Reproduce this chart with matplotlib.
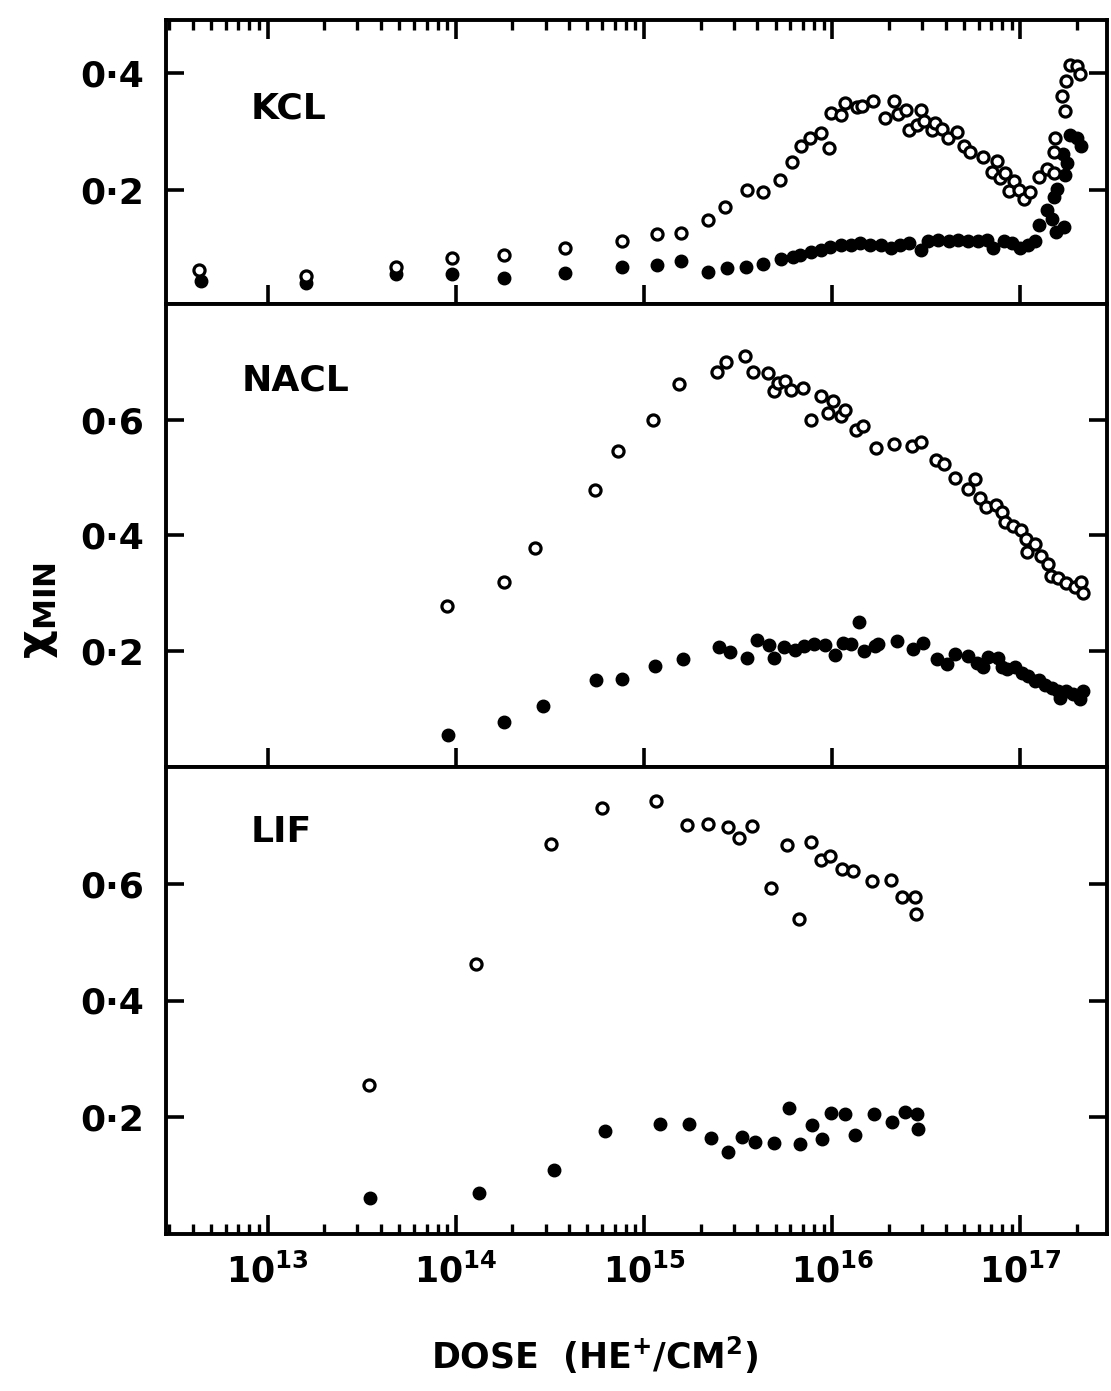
import matplotlib
matplotlib.use("Agg")
import matplotlib.pyplot as plt
from matplotlib.ticker import FixedLocator, NullFormatter, LogFormatterSciNotation

plt.rcParams['font.family'] = ['DejaVu Sans']
plt.rcParams['font.weight'] = 'bold'
plt.rcParams['mathtext.default'] = 'bf'

# ---- KCL ----
kcl_open_x = [4.3e12, 1.6e13, 4.8e13, 9.5e13, 1.8e14, 3.8e14, 7.6e14, 1.17e15, 1.57e15, 2.2e15,
              2.7e15, 3.52e15, 4.3e15, 5.27e15, 6.1e15, 6.8e15, 7.6e15, 8.75e15, 9.6e15, 9.9e15,
              1.11e16, 1.17e16, 1.35e16, 1.44e16, 1.65e16, 1.9e16, 2.14e16, 2.24e16, 2.47e16, 2.57e16,
              2.82e16, 2.95e16, 3.09e16, 3.39e16, 3.52e16, 3.82e16, 4.1e16, 4.6e16, 4.99e16, 5.4e16,
              6.31e16, 7.05e16, 7.5e16, 7.8e16, 8.3e16, 8.7e16, 9.2e16, 9.8e16, 1.05e17, 1.12e17,
              1.26e17, 1.38e17, 1.5e17, 1.51e17, 1.52e17, 1.73e17, 1.66e17, 1.75e17, 1.83e17, 2.0e17,
              2.07e17]
kcl_open_y = [0.063, 0.052, 0.069, 0.084, 0.089, 0.100, 0.113, 0.124, 0.127, 0.149,
              0.170, 0.200, 0.196, 0.216, 0.248, 0.274, 0.289, 0.297, 0.271, 0.332,
              0.327, 0.348, 0.341, 0.343, 0.351, 0.322, 0.351, 0.330, 0.336, 0.303,
              0.311, 0.336, 0.318, 0.303, 0.314, 0.304, 0.289, 0.299, 0.274, 0.265,
              0.256, 0.230, 0.250, 0.221, 0.229, 0.198, 0.215, 0.200, 0.184, 0.197,
              0.222, 0.236, 0.228, 0.265, 0.288, 0.334, 0.360, 0.386, 0.413, 0.412,
              0.397]
kcl_fill_x = [4.4e12, 1.6e13, 4.8e13, 9.5e13, 1.8e14, 3.8e14, 7.6e14, 1.17e15, 1.58e15, 2.2e15,
              2.75e15, 3.47e15, 4.27e15, 5.37e15, 6.17e15, 6.76e15, 7.67e15, 8.7e15, 9.77e15, 1.11e16,
              1.26e16, 1.41e16, 1.58e16, 1.81e16, 2.04e16, 2.29e16, 2.57e16, 2.95e16, 3.24e16, 3.67e16,
              4.17e16, 4.68e16, 5.25e16, 5.98e16, 6.61e16, 7.19e16, 8.13e16, 9.0e16, 9.95e16, 1.1e17,
              1.2e17, 1.26e17, 1.38e17, 1.48e17, 1.55e17, 1.7e17, 1.51e17, 1.56e17, 1.73e17, 1.76e17,
              1.69e17, 1.83e17, 2.0e17, 2.09e17]
kcl_fill_y = [0.045, 0.041, 0.056, 0.057, 0.049, 0.058, 0.068, 0.071, 0.078, 0.059,
              0.067, 0.069, 0.073, 0.082, 0.085, 0.089, 0.093, 0.097, 0.102, 0.106,
              0.105, 0.109, 0.106, 0.105, 0.100, 0.105, 0.109, 0.098, 0.113, 0.114,
              0.113, 0.114, 0.112, 0.112, 0.114, 0.101, 0.112, 0.109, 0.101, 0.105,
              0.112, 0.140, 0.165, 0.151, 0.128, 0.136, 0.187, 0.202, 0.225, 0.245,
              0.262, 0.294, 0.288, 0.274]

# ---- NACL ----
nacl_open_x = [9.0e13, 1.8e14, 2.65e14, 5.5e14, 7.3e14, 1.12e15, 1.53e15, 2.43e15, 2.74e15, 3.44e15,
               3.8e15, 4.57e15, 4.9e15, 5.16e15, 5.62e15, 6.03e15, 7.0e15, 7.7e15, 8.7e15, 9.44e15,
               1.01e16, 1.11e16, 1.17e16, 1.33e16, 1.46e16, 1.7e16, 2.14e16, 2.66e16, 2.95e16, 3.55e16,
               3.94e16, 4.47e16, 5.25e16, 5.75e16, 6.1e16, 6.6e16, 7.41e16, 7.94e16, 8.26e16, 9.12e16,
               1.01e17, 1.07e17, 1.08e17, 1.19e17, 1.29e17, 1.4e17, 1.45e17, 1.58e17, 1.75e17, 1.94e17,
               2.1e17, 2.14e17]
nacl_open_y = [0.278, 0.319, 0.379, 0.478, 0.546, 0.599, 0.662, 0.683, 0.700, 0.711,
               0.682, 0.680, 0.649, 0.664, 0.667, 0.652, 0.654, 0.600, 0.641, 0.611,
               0.632, 0.607, 0.616, 0.582, 0.589, 0.551, 0.558, 0.554, 0.562, 0.530,
               0.523, 0.500, 0.480, 0.498, 0.464, 0.450, 0.452, 0.440, 0.423, 0.417,
               0.410, 0.394, 0.372, 0.386, 0.364, 0.350, 0.330, 0.327, 0.318, 0.311,
               0.320, 0.300]
nacl_fill_x = [9.06e13, 1.8e14, 2.9e14, 5.53e14, 7.64e14, 1.15e15, 1.61e15, 2.51e15, 2.87e15, 3.51e15,
               3.98e15, 4.62e15, 4.92e15, 5.56e15, 6.31e15, 7.08e15, 8.04e15, 9.12e15, 1.03e16, 1.14e16,
               1.26e16, 1.38e16, 1.48e16, 1.68e16, 1.76e16, 2.22e16, 2.69e16, 3.02e16, 3.59e16, 4.07e16,
               4.47e16, 5.25e16, 5.89e16, 6.31e16, 6.76e16, 7.64e16, 7.94e16, 8.47e16, 9.33e16, 1.02e17,
               1.1e17, 1.2e17, 1.26e17, 1.35e17, 1.47e17, 1.58e17, 1.62e17, 1.75e17, 1.91e17, 2.07e17,
               2.14e17]
nacl_fill_y = [0.055, 0.078, 0.106, 0.150, 0.152, 0.174, 0.187, 0.207, 0.199, 0.188,
               0.220, 0.211, 0.188, 0.208, 0.203, 0.209, 0.213, 0.211, 0.194, 0.215,
               0.213, 0.250, 0.200, 0.209, 0.212, 0.217, 0.204, 0.215, 0.187, 0.178,
               0.196, 0.192, 0.180, 0.172, 0.190, 0.188, 0.172, 0.169, 0.172, 0.163,
               0.157, 0.148, 0.151, 0.142, 0.136, 0.132, 0.120, 0.132, 0.126, 0.118,
               0.131]

# ---- LIF ----
lif_open_x = [3.46e13, 1.28e14, 3.19e14, 5.96e14, 1.16e15, 1.7e15, 2.2e15, 2.79e15, 3.2e15, 3.74e15,
              4.72e15, 5.75e15, 6.65e15, 7.76e15, 8.67e15, 9.7e15, 1.13e16, 1.29e16, 1.62e16, 2.04e16,
              2.34e16, 2.75e16, 2.77e16]
lif_open_y = [0.255, 0.463, 0.668, 0.729, 0.741, 0.700, 0.703, 0.697, 0.678, 0.699,
              0.592, 0.667, 0.539, 0.672, 0.641, 0.647, 0.625, 0.621, 0.604, 0.606,
              0.578, 0.577, 0.548]
lif_fill_x = [3.49e13, 1.33e14, 3.33e14, 6.21e14, 1.22e15, 1.74e15, 2.27e15, 2.81e15, 3.31e15, 3.89e15,
              4.9e15, 5.89e15, 6.76e15, 7.85e15, 8.81e15, 9.84e15, 1.17e16, 1.32e16, 1.66e16, 2.09e16,
              2.45e16, 2.82e16, 2.84e16]
lif_fill_y = [0.062, 0.070, 0.109, 0.177, 0.189, 0.188, 0.165, 0.140, 0.166, 0.157,
              0.156, 0.216, 0.154, 0.186, 0.162, 0.207, 0.206, 0.170, 0.206, 0.192,
              0.209, 0.205, 0.180]

panel_names = ['KCL', 'NACL', 'LIF']
panel_ylims = [(0.005, 0.49), (0.0, 0.80), (0.0, 0.80)]
panel_yticks = [[0.2, 0.4], [0.2, 0.4, 0.6], [0.2, 0.4, 0.6]]
panel_yticklabels = [['0·2', '0·4'], ['0·2', '0·4', '0·6'], ['0·2', '0·4', '0·6']]
dose_decades = [1e12, 1e13, 1e14, 1e15, 1e16, 1e17]
dose_range = (10 ** 12.46, 10 ** 17.46)

major_locs = dose_decades[1:]
minor_locs = [d * k for d in dose_decades for k in range(2, 10)]

W, H = 1111, 1391
fig = plt.figure(figsize=(W / 100, H / 100), dpi=100)

left = 166 / W
width = 941 / W
# (top px, bottom px) of each panel
rows = [(20, 304), (304, 767), (767, 1234)]

data = [
    (kcl_open_x, kcl_open_y, kcl_fill_x, kcl_fill_y),
    (nacl_open_x, nacl_open_y, nacl_fill_x, nacl_fill_y),
    (lif_open_x, lif_open_y, lif_fill_x, lif_fill_y),
]
label_pos = [(0.09, 0.69), (0.08, 0.835), (0.09, 0.86)]

axes = []
for i, (top, bot) in enumerate(rows):
    ax = fig.add_axes([left, 1 - bot / H, width, (bot - top) / H])
    ox, oy, fx, fy = data[i]
    ax.plot(fx, fy, 'o', ms=9, color='black', mec='black', mew=1, ls='none', zorder=3)
    ax.plot(ox, oy, 'o', ms=8, mfc='white', mec='black', mew=2.3, ls='none', zorder=4)
    ax.set_xscale('log')
    ax.set_xlim(*dose_range)
    ax.set_ylim(*panel_ylims[i])
    ax.set_yticks(panel_yticks[i])
    ax.set_yticklabels(panel_yticklabels[i], fontsize=26, fontweight='bold')
    ax.yaxis.set_ticks_position('both')
    ax.xaxis.set_major_locator(FixedLocator(major_locs))
    ax.xaxis.set_minor_locator(FixedLocator(minor_locs))
    ax.xaxis.set_minor_formatter(NullFormatter())
    for s in ax.spines.values():
        s.set_linewidth(2.8)
    ax.tick_params(axis='y', which='major', direction='in', length=13, width=2.6, pad=16)
    ax.tick_params(axis='y', which='minor', left=False, right=False)
    ax.text(label_pos[i][0], label_pos[i][1], panel_names[i], transform=ax.transAxes,
            fontsize=26, fontweight='bold', ha='left', va='center')
    axes.append(ax)

ax_k, ax_n, ax_l = axes
# top panel: log ticks along the top, long majors along the bottom
ax_k.xaxis.set_ticks_position('both')
ax_k.tick_params(axis='x', which='major', direction='in', length=14, width=2.6, labelbottom=False)
ax_k.tick_params(axis='x', which='minor', direction='in', length=7, width=2.4, bottom=False)
# middle panel: majors only along the bottom
ax_n.xaxis.set_ticks_position('bottom')
ax_n.tick_params(axis='x', which='major', direction='in', length=14, width=2.6, labelbottom=False)
ax_n.tick_params(axis='x', which='minor', bottom=False, top=False)
# bottom panel: majors + minors along the bottom, labelled
ax_l.xaxis.set_ticks_position('bottom')
ax_l.tick_params(axis='x', which='major', direction='in', length=14, width=2.6,
                 labelsize=25, pad=14)
ax_l.tick_params(axis='x', which='minor', direction='in', length=7, width=2.4)
ax_l.xaxis.set_major_formatter(LogFormatterSciNotation())

fig.text(595 / W, 1 - 1355 / H, r'DOSE  (HE$^{+}$/CM$^{2}$)', ha='center', va='center',
         fontsize=25, fontweight='bold')
fig.text(38 / W, 1 - 611 / H, r'$\chi_{MIN}$', ha='center', va='center',
         rotation=90, fontsize=32)

fig.savefig('out.png', dpi=100, facecolor='white')
